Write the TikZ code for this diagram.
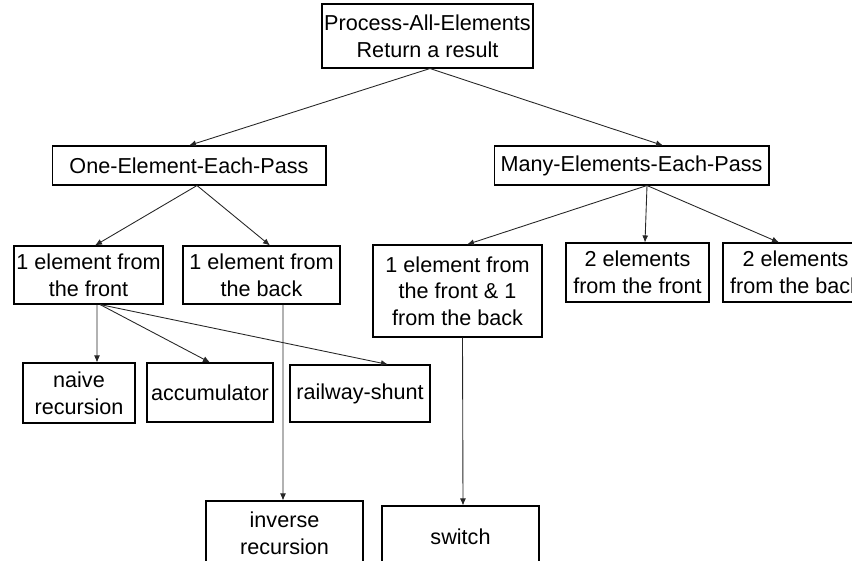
\documentclass[tikz,border=0pt]{standalone}
\usepackage{fontspec}
\setmainfont{Liberation Sans}
\usetikzlibrary{positioning,arrows.meta}

\begin{document}
\begin{tikzpicture}[x=0.02cm, y=-0.02cm,
    box/.style={draw, line width=0.6pt, inner sep=0pt, align=center,
      font=\fontsize{12.3}{15.2}\selectfont},
    link/.style={-{Latex[length=4pt,width=3.4pt]}, line width=0.5pt, black!85}]
  % frame of the figure (pixel units, y down)
  \useasboundingbox (0,0) rectangle (852,561);
  \clip (0,0) rectangle (852,561);

  % top
  \node[box, minimum width=4.22cm, minimum height=1.28cm] (all) at (427.5,36)
    {Process-All-Elements\\Return a result};

  % second level
  \node[box, minimum width=5.48cm, minimum height=0.78cm] (one) at (189,165.5)
    {One-Element-Each-Pass};
  \node[box, minimum width=5.5cm, minimum height=0.78cm] (many) at (631.5,165.5)
    {Many-Elements-Each-Pass};

  % third level
  \node[box, minimum width=2.98cm, minimum height=1.16cm] (front) at (88.5,275)
    {1 element from\\the front};
  \node[box, minimum width=3.14cm, minimum height=1.16cm] (back) at (261.5,275)
    {1 element from\\the back};
  \node[box, minimum width=3.38cm, minimum height=1.84cm] (frontback) at (457.5,291)
    {1 element from\\the front \& 1\\from the back};
  \node[box, minimum width=2.86cm, minimum height=1.18cm] (twofront) at (637.5,272.5)
    {2 elements\\from the front};
  \node[box, minimum width=2.9cm, minimum height=1.18cm] (twoback) at (795.5,272.5)
    {2 elements\\from the back};

  % fourth level
  \node[box, minimum width=2.24cm, minimum height=1.2cm] (naive) at (79,393)
    {naive\\recursion};
  \node[box, minimum width=2.52cm, minimum height=1.18cm] (accu) at (210,392.5)
    {accumulator};
  \node[box, minimum width=2.8cm, minimum height=1.14cm] (shunt) at (360,393.5)
    {railway-shunt};

  % bottom
  \node[box, minimum width=3.14cm, minimum height=1.28cm] (inverse) at (284.5,533)
    {inverse\\recursion};
  \node[box, minimum width=3.14cm, minimum height=1.24cm] (switch) at (460.5,537)
    {switch};

  % arrows
  \draw[link] ([xshift=0.05cm]all.south) -- (one.north);
  \draw[link] ([xshift=0.05cm]all.south) -- ([xshift=0.63cm]many.north);

  \draw[link] ([xshift=0.16cm]one.south) -- ([xshift=0.13cm]front.north);
  \draw[link] ([xshift=0.16cm]one.south) -- ([xshift=0.17cm]back.north);

  \draw[link] ([xshift=0.31cm]many.south) -- ([xshift=0.19cm]frontback.north);
  \draw[link] ([xshift=0.31cm]many.south) -- ([xshift=0.15cm]twofront.north);
  \draw[link] ([xshift=0.31cm]many.south) -- ([xshift=-0.33cm]twoback.north);

  \draw[link] ([xshift=0.17cm]front.south) -- ([xshift=0.36cm]naive.north);
  \draw[link] ([xshift=0.23cm]front.south) -- (accu.north);
  \draw[link] ([xshift=0.23cm]front.south) -- ([xshift=0.56cm]shunt.north);

  \draw[link] ([xshift=0.43cm]back.south) -- ([xshift=-0.03cm]inverse.north);
  \draw[link] ([xshift=0.1cm]frontback.south) -- ([xshift=0.05cm]switch.north);
\end{tikzpicture}
\end{document}
